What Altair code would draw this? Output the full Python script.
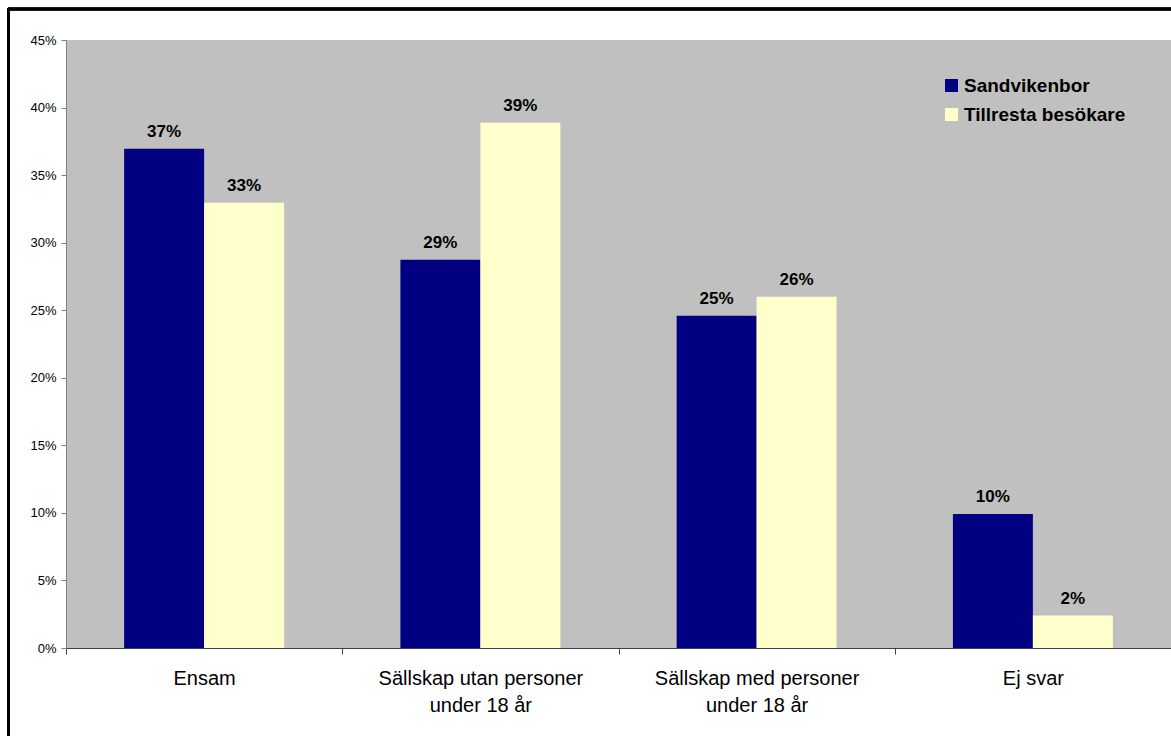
import altair as alt
import pandas as pd

# Survey answers: who the respondent came with
categories = [
    "Ensam",
    "Sällskap utan personer under 18 år",
    "Sällskap med personer under 18 år",
    "Ej svar",
]
series = ["Sandvikenbor", "Tillresta besökare"]
sandvikenbor = [0.3695, 0.2874, 0.246, 0.0991]
tillresta = [0.3296, 0.3887, 0.26, 0.024]
series_colors = ["#000080", "#FFFFCC"]
y_tick_values = [0, 0.05, 0.10, 0.15, 0.20, 0.25, 0.30, 0.35, 0.40, 0.45]

rows = []
for cat, a, b in zip(categories, sandvikenbor, tillresta):
    rows.append({"Kategori": cat, "Grupp": series[0], "Andel": a})
    rows.append({"Kategori": cat, "Grupp": series[1], "Andel": b})
df = pd.DataFrame(rows)

FONT = "Arial, Liberation Sans, sans-serif"

# Break the two long category names before "under"
label_expr = (
    "indexof(datum.label, ' under') > 0 ? "
    "[slice(datum.label, 0, indexof(datum.label, ' under')), "
    "slice(datum.label, indexof(datum.label, ' under') + 1)] : datum.label"
)

base = alt.Chart(df).encode(
    x=alt.X(
        "Kategori:N",
        sort=categories,
        scale=alt.Scale(paddingInner=0, paddingOuter=0),
        axis=alt.Axis(
            title=None,
            labelAngle=0,
            tickBand="extent",
            tickSize=6,
            tickColor="#404040",
            domainColor="#404040",
            labelFont=FONT,
            labelFontSize=20,
            labelColor="#000000",
            labelPadding=14,
            labelLineHeight=27,
            labelLimit=0,
            labelExpr=label_expr,
        ),
    ),
    xOffset=alt.XOffset(
        "Grupp:N",
        sort=series,
        scale=alt.Scale(paddingInner=0, paddingOuter=0.727),
    ),
    y=alt.Y(
        "Andel:Q",
        scale=alt.Scale(domain=[0, 0.45], nice=False),
        axis=alt.Axis(
            title=None,
            format=".0%",
            values=y_tick_values,
            grid=False,
            tickSize=5,
            tickColor="#808080",
            domainColor="#808080",
            labelFont=FONT,
            labelFontSize=13,
            labelColor="#000000",
            labelPadding=5,
        ),
    ),
)

bars = base.mark_bar().encode(
    color=alt.Color(
        "Grupp:N",
        sort=series,
        scale=alt.Scale(domain=series, range=series_colors),
        legend=alt.Legend(
            title=None,
            orient="none",
            legendX=876,
            legendY=36,
            symbolType="square",
            symbolSize=169,
            symbolStrokeWidth=0,
            symbolOpacity=1,
            labelFont=FONT,
            labelFontSize=19,
            labelFontWeight="bold",
            labelColor="#000000",
            labelOffset=3,
            rowPadding=9,
            labelLimit=0,
        ),
    )
)

values = base.mark_text(
    baseline="alphabetic",
    dy=-12,
    font=FONT,
    fontSize=17,
    fontWeight="bold",
    color="#000000",
).encode(text=alt.Text("Andel:Q", format=".0%"))

# Black page frame around the chart
frame_top = alt.Chart(df).mark_rule(color="#000000", strokeWidth=2.5).encode(
    x=alt.value(-58), x2=alt.value(1200), y=alt.value(-31)
)
frame_left = alt.Chart(df).mark_rule(color="#000000", strokeWidth=2.5).encode(
    x=alt.value(-57.5), y=alt.value(-32), y2=alt.value(800)
)

chart = (
    alt.layer(bars, values, frame_top, frame_left)
    .properties(
        width=1105,
        height=608,
        autosize=alt.AutoSizeParams(type="none"),
        padding={"left": 66, "top": 40, "right": 0, "bottom": 88},
        background="#FFFFFF",
    )
    .configure_view(fill="#C0C0C0", strokeWidth=0)
)

chart.save("out.html", embed_options={"renderer": "svg", "actions": False})
